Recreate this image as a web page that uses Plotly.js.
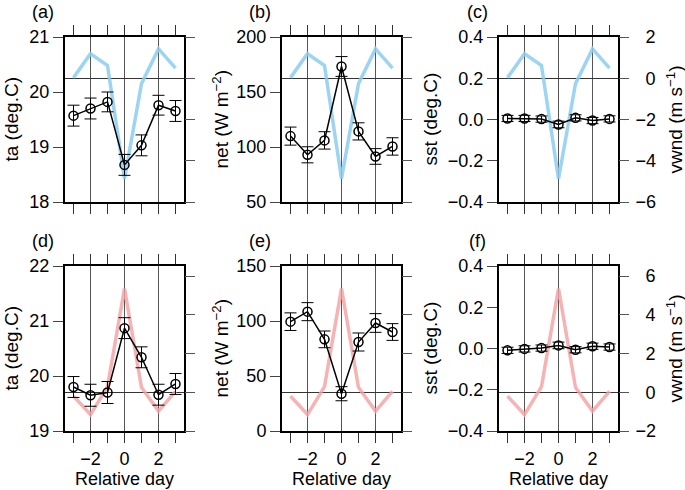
<!DOCTYPE html>
<html>
<head>
<meta charset="utf-8">
<script src="https://cdn.plot.ly/plotly-3.0.1.min.js"></script>
<style>
  body { margin: 0; }
  #plot { width: 685px; height: 490px; }
</style>
</head>
<body>
<div id="plot"></div>
<script>
// composite days, -3 .. +3
const days = [-3, -2, -1, 0, 1, 2, 3];

// top row (a-c)
const taTop = [19.57, 19.70, 19.82, 18.675, 19.03, 19.76, 19.655];
const taTopErr = [0.19, 0.19, 0.18, 0.19, 0.19, 0.18, 0.19];
const netTop = [109.9, 92.9, 106.0, 173.2, 114.2, 91.4, 100.5];
const netTopErr = [8.2, 7.3, 7.9, 9.0, 7.8, 7.1, 7.9];
const sstTop = [0.005, 0.005, 0.002, -0.024, 0.008, -0.005, 0.003];
const sstTopErr = [0.015, 0.015, 0.015, 0.016, 0.015, 0.015, 0.015];
const vwndTop = [0.03, 1.19, 0.62, -4.87, -0.26, 1.42, 0.49];

// bottom row (d-f)
const taBot = [19.80, 19.65, 19.70, 20.87, 20.34, 19.66, 19.855];
const taBotErr = [0.19, 0.2, 0.2, 0.19, 0.19, 0.19, 0.19];
const netBot = [99.4, 108.5, 83.3, 33.9, 80.9, 98.2, 90.0];
const netBotErr = [8.0, 8.2, 7.6, 6.4, 8.2, 8.5, 7.6];
const sstBot = [-0.009, -0.002, 0.002, 0.015, -0.006, 0.011, 0.007];
const sstBotErr = [0.015, 0.015, 0.015, 0.016, 0.015, 0.015, 0.015];
const vwndBot = [-0.2, -1.15, 0.29, 5.36, 0.25, -0.97, 0.05];

const gridDays = [-2, 0, 2];
const minorDays = [-3, -1, 1, 3];
const dayLabels = ["\u22122", "0", "2"];
const vwndTopTicks = [-6, -4, -2, 0, 2];
const vwndTopLabels = ["\u22126", "\u22124", "\u22122", "\u20070", "\u20072"];
const vwndBotTicks = [-2, 0, 2, 4, 6];
const vwndBotLabels = ["\u22122", "\u20070", "\u20072", "\u20074", "\u20076"];

const W = 685, H = 490;
const FONT = "Liberation Sans, Arial, sans-serif";
const BLUE = "rgba(140, 205, 240, 0.85)";
const PINK = "rgba(242, 160, 160, 0.8)";

// panel frames in pixels
const cols = [[65, 184], [282, 401], [499, 618]];
const rows = [[37, 202], [266, 431]];

const panels = [
  {lab: "(a)", y: taTop, err: taTopErr, range: [18, 21], dtick: 1, title: "ta (deg.C)", v: vwndTop, row: 0, col: 0},
  {lab: "(b)", y: netTop, err: netTopErr, range: [50, 200], dtick: 50, title: "net (W m<sup>\u22122</sup>)", v: vwndTop, row: 0, col: 1},
  {lab: "(c)", y: sstTop, err: sstTopErr, range: [-0.4, 0.4], dtick: 0.2, fmt: ".1f", title: "sst (deg.C)", v: vwndTop, row: 0, col: 2},
  {lab: "(d)", y: taBot, err: taBotErr, range: [19, 22], dtick: 1, title: "ta (deg.C)", v: vwndBot, row: 1, col: 0},
  {lab: "(e)", y: netBot, err: netBotErr, range: [0, 150], dtick: 50, title: "net (W m<sup>\u22122</sup>)", v: vwndBot, row: 1, col: 1},
  {lab: "(f)", y: sstBot, err: sstBotErr, range: [-0.4, 0.4], dtick: 0.2, fmt: ".1f", title: "sst (deg.C)", v: vwndBot, row: 1, col: 2},
];

const px = (x) => x / W;
const py = (y) => 1 - y / H;

const layout = {
  width: W, height: H,
  margin: {l: 0, r: 0, t: 0, b: 0},
  paper_bgcolor: "white",
  plot_bgcolor: "white",
  showlegend: false,
  font: {family: FONT, size: 18, color: "black"},
  annotations: [],
};
const data = [];

function ann(text, x, y, angle, size) {
  layout.annotations.push({
    text: text, xref: "paper", yref: "paper", x: px(x), y: py(y),
    xanchor: "center", yanchor: "middle", showarrow: false,
    textangle: angle || 0, font: {family: FONT, size: size || 18, color: "black"},
  });
}

panels.forEach((p, i) => {
  const n = i + 1;
  const m = i + 7;
  const [x0, x1] = cols[p.col];
  const [y0, y1] = rows[p.row];
  const bottom = p.row === 1;
  const lastCol = p.col === 2;

  layout["xaxis" + n] = {
    domain: [px(x0), px(x1)],
    anchor: "y" + n,
    range: [-3.5, 3.5],
    tickmode: "array", tickvals: gridDays, ticktext: dayLabels,
    showticklabels: bottom,
    ticks: "outside", ticklen: 10, tickwidth: 1, tickcolor: "#333",
    minor: {tickmode: "array", tickvals: minorDays, ticks: "outside", ticklen: 10, tickwidth: 1, tickcolor: "#333", showgrid: false},
    showgrid: true, gridcolor: "#555", gridwidth: 1,
    zeroline: false,
    showline: true, linecolor: "black", linewidth: 2, mirror: "ticks",
    tickfont: {size: 18},
    fixedrange: true,
  };

  // right axis: vwnd (main subplot, so its zero line lies under the traces)
  layout["yaxis" + n] = {
    domain: [py(y1), py(y0)],
    anchor: "x" + n,
    side: "right",
    range: bottom ? [-2, 6.52] : [-6, 2],
    tickmode: "array",
    tickvals: bottom ? vwndBotTicks : vwndTopTicks,
    ticktext: bottom ? vwndBotLabels : vwndTopLabels,
    showticklabels: lastCol,
    ticklabelstandoff: 3,
    ticks: "outside", ticklen: 10, tickwidth: 1, tickcolor: "#555",
    showgrid: false,
    zeroline: true, zerolinecolor: "#333", zerolinewidth: 1,
    showline: false,
    tickfont: {size: 18},
    fixedrange: true,
  };

  // left axis: the composite variable, drawn on top
  layout["yaxis" + m] = {
    overlaying: "y" + n,
    anchor: "x" + n,
    side: "left",
    range: p.range,
    dtick: p.dtick, tick0: p.range[0],
    tickformat: p.fmt || "",
    ticks: "outside", ticklen: 10, tickwidth: 1, tickcolor: "#444",
    showgrid: false, zeroline: false,
    showline: true, linecolor: "black", linewidth: 2, mirror: true,
    tickfont: {size: 18},
    fixedrange: true,
  };

  data.push({
    x: days, y: p.v, xaxis: "x" + n, yaxis: "y" + n,
    type: "scatter", mode: "lines",
    line: {color: bottom ? PINK : BLUE, width: 3.5},
    hoverinfo: "skip",
  });

  data.push({
    x: days, y: p.y, xaxis: "x" + n, yaxis: "y" + m,
    type: "scatter", mode: "lines+markers",
    line: {color: "black", width: 1.5},
    marker: {symbol: "circle-open", size: 9, color: "black", line: {width: 1.5}},
    error_y: {type: "data", array: p.err, visible: true, color: "black", thickness: 1, width: 6},
  });

  ann(p.lab, x0 - 22, y0 - 25);
  ann(p.title, [11, 220, 430][p.col], (y0 + y1) / 2, -90, 19);
  if (bottom) ann("Relative day", (x0 + x1) / 2, 479);
  if (lastCol) ann("vwnd (m s<sup>\u22121</sup>)", 674, (y0 + y1) / 2, -90, 19);
});

Plotly.newPlot("plot", data, layout, {staticPlot: true});
</script>
</body>
</html>
